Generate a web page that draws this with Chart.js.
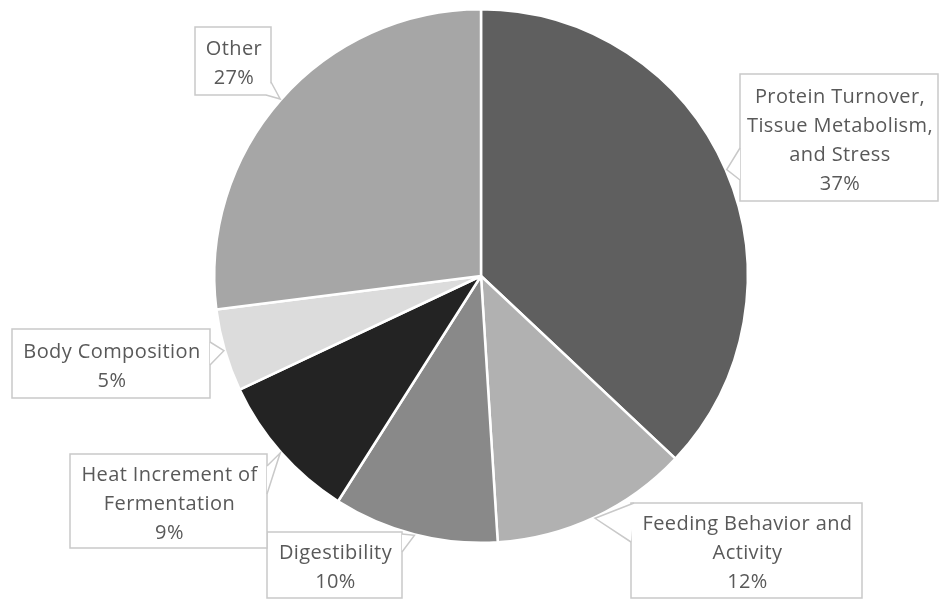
<!DOCTYPE html>
<html lang="en">
<head>
    <meta charset="UTF-8">
    <title>Energy Partition</title>
    <script src="https://cdn.jsdelivr.net/npm/chart.js"></script>
    <style>
        body { margin: 0; background: #fff; }
        #chart-container { width: 940px; height: 600px; }
    </style>
</head>
<body>
<div id="chart-container">
    <canvas id="pieChart" width="940" height="600"></canvas>
</div>

<script>
    // categories (one entry per slice, line breaks as in the callouts)
    const categories = [
        ['Protein Turnover,', 'Tissue Metabolism,', 'and Stress'],
        ['Feeding Behavior and', 'Activity'],
        ['Digestibility'],
        ['Heat Increment of', 'Fermentation'],
        ['Body Composition'],
        ['Other']
    ];
    const shares = [37, 12, 10, 9, 5, 27];
    const sliceColors = ['#5f5f5f', '#b1b1b1', '#898989', '#232323', '#dcdcdc', '#a6a6a6'];

    // callout boxes: box rect and the two points where the pointer leaves it
    const callouts = [
        { box: [740, 74, 198, 127], base: [[740, 148], [740, 180]] },
        { box: [631, 503, 231, 95], base: [[634, 503], [631, 542]] },
        { box: [267, 532, 135, 66], base: [[402, 534], [402, 552]] },
        { box: [70, 454, 197, 94], base: [[267, 466], [267, 494]] },
        { box: [12, 329, 198, 69], base: [[210, 342], [210, 365]] },
        { box: [195, 27, 76, 68], base: [[271, 82], [266, 95]] }
    ];

    const calloutPlugin = {
        id: 'callouts',
        afterDraw(chart) {
            const ctx = chart.ctx;
            const arcs = chart.getDatasetMeta(0).data;
            ctx.save();
            ctx.font = '20px "Open Sans", sans-serif';
            ctx.letterSpacing = '0.4px';
            ctx.textAlign = 'center';
            ctx.textBaseline = 'middle';
            arcs.forEach((arc, i) => {
                const p = arc.getProps(['x', 'y', 'startAngle', 'endAngle', 'outerRadius'], true);
                const mid = (p.startAngle + p.endAngle) / 2;
                const tx = p.x + Math.cos(mid) * (p.outerRadius + 1);
                const ty = p.y + Math.sin(mid) * (p.outerRadius + 1);
                const c = callouts[i];
                const [bx, by, bw, bh] = c.box;

                ctx.fillStyle = '#ffffff';
                ctx.strokeStyle = '#c9c9c9';
                ctx.lineWidth = 1.5;
                ctx.fillRect(bx, by, bw, bh);
                ctx.strokeRect(bx, by, bw, bh);

                // pointer
                ctx.beginPath();
                ctx.moveTo(c.base[0][0], c.base[0][1]);
                ctx.lineTo(tx, ty);
                ctx.lineTo(c.base[1][0], c.base[1][1]);
                ctx.closePath();
                ctx.fill();
                ctx.beginPath();
                ctx.moveTo(c.base[0][0], c.base[0][1]);
                ctx.lineTo(tx, ty);
                ctx.lineTo(c.base[1][0], c.base[1][1]);
                ctx.stroke();

                const lines = categories[i].concat([shares[i] + '%']);
                const lh = 29;
                const cx = bx + bw / 2 + 1;
                const cy = by + bh / 2 + 3;
                ctx.fillStyle = '#595959';
                lines.forEach((t, k) => {
                    ctx.fillText(t, cx, cy + (k - (lines.length - 1) / 2) * lh);
                });
            });
            ctx.restore();
        }
    };

    document.addEventListener('DOMContentLoaded', function() {
        const ctx = document.getElementById('pieChart').getContext('2d');
        new Chart(ctx, {
            type: 'pie',
            data: {
                labels: categories,
                datasets: [{
                    data: shares,
                    backgroundColor: sliceColors,
                    borderColor: '#ffffff',
                    borderWidth: 2.5
                }]
            },
            options: {
                responsive: false,
                animation: false,
                layout: {
                    padding: { left: 213, right: 191, top: 8, bottom: 56 }
                },
                plugins: {
                    legend: { display: false },
                    tooltip: { enabled: false }
                }
            },
            plugins: [calloutPlugin]
        });
    });
</script>
</body>
</html>
